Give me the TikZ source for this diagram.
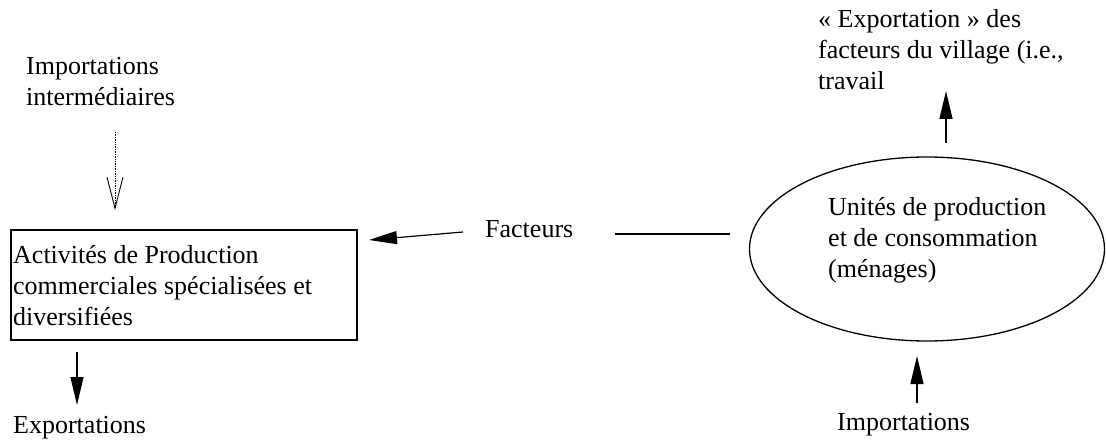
\documentclass[tikz,border=0pt]{standalone}
\usepackage{fontspec}
\setmainfont{Liberation Serif}
\usetikzlibrary{arrows.meta,shapes.geometric}
\tikzset{
  lbl/.style={anchor=base west, inner sep=0pt, align=left, font=\fontsize{26}{31}\selectfont},
  fillarrow/.style={line width=1.2pt, -{Triangle[length=28pt,width=13pt]}},
  openarrow/.style={line width=0.7pt, densely dotted, -{Straight Barb[length=31pt,width=16pt,line width=0.9pt]}},
  prodbox/.style={draw, line width=1.3pt, inner sep=0pt},
  menagebox/.style={draw, ellipse, line width=1.3pt, inner sep=0pt},
}
\begin{document}
\begin{tikzpicture}[x=1pt,y=-1pt]
\useasboundingbox (0,0) rectangle (1106,441);
% texts (multi-line nodes: base = baseline of last line)
\node[lbl] (impint) at (26,106) {Importations\\intermédiaires};
\node[lbl] (prodtxt) at (13,325) {Activités de Production\\commerciales spécialisées et\\diversifiées};
\node[lbl] (export) at (13,433) {Exportations};
\node[lbl] (fact) at (485,237) {Facteurs};
\node[lbl] (menagetxt) at (828,277) {Unités de production\\et de consommation\\(ménages)};
\node[lbl] (expfact) at (818,90) {« Exportation » des\\facteurs du village (i.e.,\\travail};
\node[lbl] (imp) at (837,430) {Importations};
% shapes
\node[prodbox, minimum width=346pt, minimum height=110pt] (prod) at (184,285) {};
\node[menagebox, minimum width=355pt, minimum height=184pt] (menage) at (927,249) {};
% connector end points
\coordinate (dotA) at (115,132);
\coordinate (dotB) at (115,210);
\coordinate (expA) at (77,352);
\coordinate (expB) at (77,405);
\coordinate (facA) at (463,232);
\coordinate (facB) at (369,240);
\coordinate (linA) at (615,234);
\coordinate (linB) at (730,234);
\coordinate (upA) at (946,143);
\coordinate (upB) at (946,91);
\coordinate (impA) at (917,403);
\coordinate (impB) at (917,356);
% connectors
\draw[openarrow] (dotA) -- (dotB);
\draw[fillarrow] (expA) -- (expB);
\draw[fillarrow] (facA) -- (facB);
\draw[line width=1.5pt] (linA) -- (linB);
\draw[fillarrow] (upA) -- (upB);
\draw[fillarrow] (impA) -- (impB);
\end{tikzpicture}
\end{document}
